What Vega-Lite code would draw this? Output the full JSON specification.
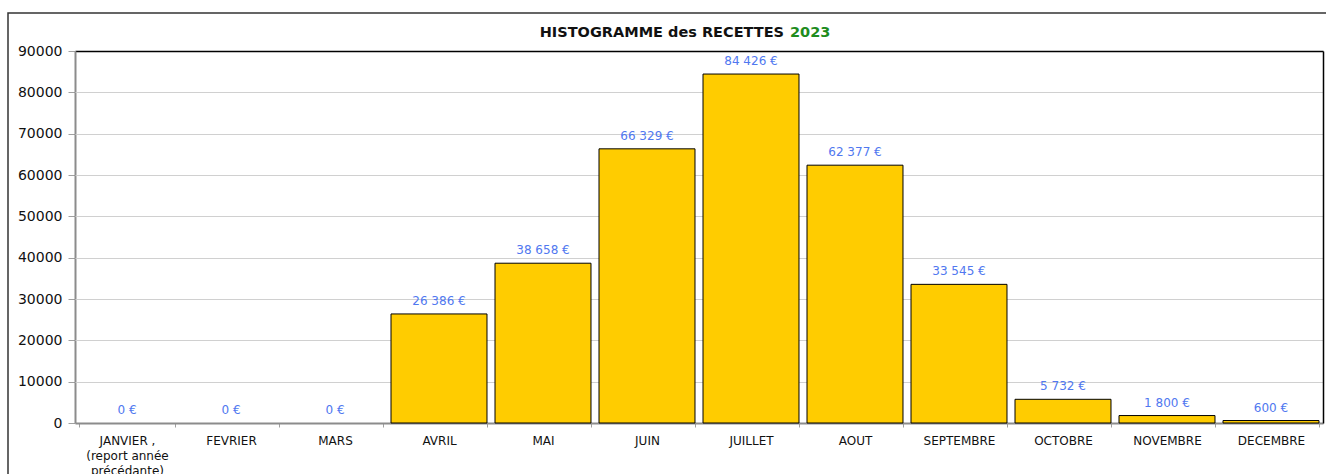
{
  "$schema": "https://vega.github.io/schema/vega-lite/v6.json",
  "width": 1321,
  "height": 465,
  "autosize": {"type": "none"},
  "padding": {"left": 8, "top": 13, "right": -3, "bottom": -4},
  "background": "white",
  "config": {
    "view": {"stroke": "#333333", "strokeWidth": 1.5},
    "font": "DejaVu Sans",
    "locale": {"number": {"decimal": ",", "thousands": " ", "grouping": [3], "currency": ["", " €"]}}
  },
  "data": {
    "values": [
      {"mois": "JANVIER", "recette": 0},
      {"mois": "FEVRIER", "recette": 0},
      {"mois": "MARS", "recette": 0},
      {"mois": "AVRIL", "recette": 26386},
      {"mois": "MAI", "recette": 38658},
      {"mois": "JUIN", "recette": 66329},
      {"mois": "JUILLET", "recette": 84426},
      {"mois": "AOUT", "recette": 62377},
      {"mois": "SEPTEMBRE", "recette": 33545},
      {"mois": "OCTOBRE", "recette": 5732},
      {"mois": "NOVEMBRE", "recette": 1800},
      {"mois": "DECEMBRE", "recette": 600}
    ]
  },
  "resolve": {"axis": {"x": "independent", "y": "independent"}},
  "layer": [
    {
      "transform": [{"filter": "datum.recette > 0"}],
      "mark": {"type": "bar", "fill": "#FFCC00", "stroke": "#000000", "strokeWidth": 1},
      "encoding": {
        "x": {
          "field": "mois", "type": "nominal", "sort": null,
          "scale": {
            "domain": ["JANVIER", "FEVRIER", "MARS", "AVRIL", "MAI", "JUIN", "JUILLET", "AOUT", "SEPTEMBRE", "OCTOBRE", "NOVEMBRE", "DECEMBRE"],
            "range": [67, 1315], "paddingInner": 0.077, "paddingOuter": 0.0385
          },
          "axis": {
            "orient": "bottom", "offset": -55, "title": null, "labelAngle": 0, "tickBand": "extent",
            "tickSize": 4, "tickColor": "#a0a0a0", "domainColor": "#8c8c8c", "domainWidth": 2,
            "labelFont": "DejaVu Sans", "labelFontSize": 12, "labelColor": "#111111", "labelPadding": 8,
            "labelLineHeight": 15, "grid": false,
            "labelExpr": "datum.value === 'JANVIER' ? ['JANVIER ,', '(report année', 'précédante)'] : datum.label"
          }
        },
        "y": {
          "field": "recette", "type": "quantitative",
          "scale": {"domain": [0, 90000], "range": [410, 38], "nice": false, "zero": true},
          "axis": {
            "orient": "left", "offset": -67, "title": null,
            "values": [0, 10000, 20000, 30000, 40000, 50000, 60000, 70000, 80000, 90000],
            "format": "d", "grid": false, "tickSize": 7, "tickColor": "#a0a0a0",
            "domainColor": "#8c8c8c", "domainWidth": 2, "labelFont": "DejaVu Sans",
            "labelFontSize": 14, "labelColor": "#111111", "labelPadding": 6
          }
        }
      }
    },
    {
      "mark": {"type": "text", "baseline": "alphabetic", "dy": -9, "fontSize": 12, "font": "DejaVu Sans", "color": "#5078F0"},
      "encoding": {
        "x": {"field": "mois", "type": "nominal", "sort": null, "axis": null},
        "y": {
          "field": "recette", "type": "quantitative",
          "axis": {
            "orient": "left", "offset": -67, "title": null,
            "values": [10000, 20000, 30000, 40000, 50000, 60000, 70000, 80000],
            "labels": false, "domain": false, "grid": false,
            "tickSize": -1248, "tickColor": "#d0d0d0", "tickWidth": 1
          }
        },
        "text": {"field": "recette", "type": "quantitative", "format": "$,.0f"}
      }
    },
    {
      "data": {"values": [{}]},
      "mark": {"type": "text", "align": "right", "baseline": "alphabetic", "dx": 33, "dy": -14, "fontSize": 14.5, "fontWeight": "bold", "font": "DejaVu Sans", "color": "#111111"},
      "encoding": {
        "x": {"datum": "JUILLET", "type": "nominal", "axis": {"orient": "top", "offset": -38, "title": null, "domainColor": "#000000", "domainWidth": 1.5, "ticks": false, "labels": false, "grid": false}},
        "y": {"datum": 90000, "type": "quantitative", "axis": {"orient": "right", "offset": -6, "title": null, "domainColor": "#000000", "domainWidth": 1.5, "ticks": false, "labels": false, "grid": false}},
        "text": {"value": "HISTOGRAMME des RECETTES"}
      }
    },
    {
      "data": {"values": [{}]},
      "mark": {"type": "text", "align": "left", "baseline": "alphabetic", "dx": 39, "dy": -14, "fontSize": 14.5, "fontWeight": "bold", "font": "DejaVu Sans", "color": "#1E8C1E"},
      "encoding": {
        "x": {"datum": "JUILLET", "type": "nominal", "axis": null},
        "y": {"datum": 90000, "type": "quantitative", "axis": null},
        "text": {"value": "2023"}
      }
    }
  ]
}
